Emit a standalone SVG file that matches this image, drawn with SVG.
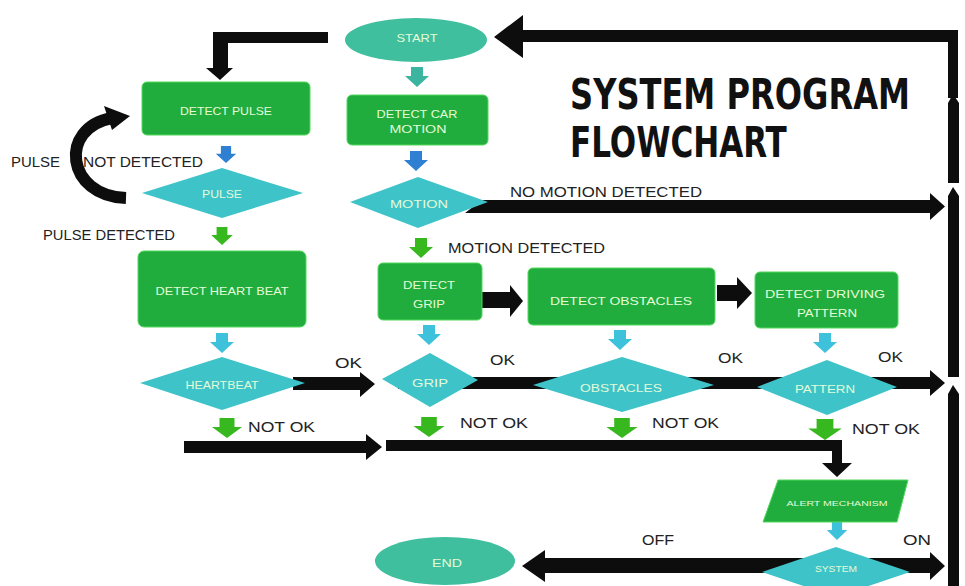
<svg xmlns="http://www.w3.org/2000/svg" xmlns:xlink="http://www.w3.org/1999/xlink" width="965" height="586" viewBox="0 0 965 586">
<style>
.box{fill:#20ad3d;stroke:#52d85c;stroke-width:1}
.dia{fill:#3ec3c8}
.ell{fill:#3fbf9d}
.nt{font-family:"Liberation Sans",Arial,sans-serif;font-size:11px;fill:#e4fbd8;text-anchor:middle}
.lb{font-family:"Liberation Sans",Arial,sans-serif;font-size:15px;fill:#222}
.title{font-family:"DejaVu Sans Condensed","Liberation Sans Narrow","Liberation Sans",sans-serif;font-weight:bold;font-size:42px;fill:#111}
.blk{fill:#0d0d0d}
.bl{fill:#2f80d2}
.gr{fill:#38b81f}
.cy{fill:#3ec2dc}
.tl{fill:#3bb5a0}
</style>
<defs>
<path id="sa" d="M-6,0 H6 V9 H12 L0,20 L-12,9 H-6 Z"/>
</defs>
<rect width="965" height="586" fill="#ffffff"/>

<g id="title">
<text class="title" transform="translate(570,109) scale(0.85,1)" x="0" y="0" textLength="400" lengthAdjust="spacingAndGlyphs">SYSTEM PROGRAM</text>
<text class="title" transform="translate(570,157) scale(0.85,1)" x="0" y="0" textLength="255" lengthAdjust="spacingAndGlyphs">FLOWCHART</text>
</g>

<g id="connectors">
<path class="blk" d="M328,32 V43 H228 V68 H233 L220,80 L206,68 H213 V32 Z"/>
<path class="blk" d="M958,30 V98 H948 V42 H523 V58 L494,37 L523,15 V30 Z"/>
<path class="blk" d="M948,103 L953,94 L959,103 V183 H948 Z"/>
<path class="blk" d="M948,196 L953,187 L959,196 V377 H948 Z"/>
<path class="blk" d="M948,394 L953,385 L959,394 V586 H948 Z"/>
<path d="M126,198 C66,196 58,128 112,118" fill="none" stroke="#0d0d0d" stroke-width="12"/>
<path class="blk" d="M104,106 L130,116 L112,130 Z"/>
<path class="blk" d="M465,213 L482,200 H930 V193 L945,206.5 L930,220 V213 Z"/>
<path class="blk" d="M482,292 H510 V285 L523,301 L510,317 V308 H482 Z"/>
<path class="blk" d="M717,285 H737 V277 L752,293 L737,309 V301 H717 Z"/>
<path class="blk" d="M293,377 H360 V372 L375,384 L360,397 V390 H293 Z"/>
<path class="blk" d="M398,377 H930 V370 L945,383 L930,396 V389 H398 Z"/>
<path class="blk" d="M184,441 H366 V434 L382,447 L366,460 V453 H184 Z"/>
<path class="blk" d="M386,440 H842 V463 H852 L837,477 L822,463 H832 V451 H386 Z"/>
<path class="blk" d="M522,566 L545,550 V558 H930 V552 L945,566 L930,580 V573 H545 V582 Z"/>
<use href="#sa" class="tl" transform="translate(417,67)"/>
<use href="#sa" class="bl" transform="translate(226,146) scale(0.85)"/>
<use href="#sa" class="bl" transform="translate(416,151)"/>
<use href="#sa" class="gr" transform="translate(222,227) scale(0.9)"/>
<use href="#sa" class="gr" transform="translate(421,238)"/>
<use href="#sa" class="cy" transform="translate(222,333)"/>
<use href="#sa" class="gr" transform="translate(227,418) scale(1.25,1)"/>
<use href="#sa" class="cy" transform="translate(429,325)"/>
<use href="#sa" class="gr" transform="translate(429,417) scale(1.3,1)"/>
<use href="#sa" class="cy" transform="translate(620,330)"/>
<use href="#sa" class="gr" transform="translate(622,418) scale(1.3,1)"/>
<use href="#sa" class="cy" transform="translate(825,333)"/>
<use href="#sa" class="gr" transform="translate(825,419) scale(1.4,1.05)"/>
<use href="#sa" class="cy" transform="translate(837,522) scale(0.85,0.9)"/>
</g>

<g id="labels">
<text class="lb" x="11" y="167" textLength="49" lengthAdjust="spacingAndGlyphs">PULSE</text>
<text class="lb" x="83" y="167" textLength="120" lengthAdjust="spacingAndGlyphs">NOT DETECTED</text>
<text class="lb" x="43" y="240" textLength="132" lengthAdjust="spacingAndGlyphs">PULSE DETECTED</text>
<text class="lb" x="510" y="197" textLength="192" lengthAdjust="spacingAndGlyphs">NO MOTION DETECTED</text>
<text class="lb" x="448" y="253" textLength="157" lengthAdjust="spacingAndGlyphs">MOTION DETECTED</text>
<text class="lb" x="335" y="368" textLength="27" lengthAdjust="spacingAndGlyphs">OK</text>
<text class="lb" x="490" y="365" textLength="25" lengthAdjust="spacingAndGlyphs">OK</text>
<text class="lb" x="718" y="363" textLength="25" lengthAdjust="spacingAndGlyphs">OK</text>
<text class="lb" x="878" y="362" textLength="25" lengthAdjust="spacingAndGlyphs">OK</text>
<text class="lb" x="248" y="432" textLength="67" lengthAdjust="spacingAndGlyphs">NOT OK</text>
<text class="lb" x="460" y="428" textLength="68" lengthAdjust="spacingAndGlyphs">NOT OK</text>
<text class="lb" x="652" y="428" textLength="67" lengthAdjust="spacingAndGlyphs">NOT OK</text>
<text class="lb" x="852" y="434" textLength="68" lengthAdjust="spacingAndGlyphs">NOT OK</text>
<text class="lb" x="642" y="545" textLength="32" lengthAdjust="spacingAndGlyphs">OFF</text>
<text class="lb" x="903" y="545" textLength="28" lengthAdjust="spacingAndGlyphs">ON</text>
</g>

<g id="start">
<ellipse class="ell" cx="416" cy="40" rx="71" ry="22"/>
<text class="nt" x="417" y="42" textLength="41" lengthAdjust="spacingAndGlyphs">START</text>
</g>
<g id="detect-pulse">
<rect class="box" x="142" y="82" width="168" height="53" rx="5"/>
<text class="nt" x="226" y="115" textLength="92" lengthAdjust="spacingAndGlyphs">DETECT PULSE</text>
</g>
<g id="pulse">
<polygon class="dia" points="142,193 222,168 303,193 222,218"/>
<text class="nt" x="222" y="198" textLength="40" lengthAdjust="spacingAndGlyphs">PULSE</text>
</g>
<g id="detect-car-motion">
<rect class="box" x="347" y="95" width="141" height="50" rx="5"/>
<text class="nt" x="417" y="118" textLength="81" lengthAdjust="spacingAndGlyphs">DETECT CAR</text>
<text class="nt" x="418" y="133" textLength="57" lengthAdjust="spacingAndGlyphs">MOTION</text>
</g>
<g id="motion">
<polygon class="dia" points="350,202 418,177 488,202 418,228"/>
<text class="nt" x="419" y="208" textLength="58" lengthAdjust="spacingAndGlyphs">MOTION</text>
</g>
<g id="detect-heart-beat">
<rect class="box" x="138" y="251" width="168" height="76" rx="6"/>
<text class="nt" x="222" y="295" textLength="133" lengthAdjust="spacingAndGlyphs">DETECT HEART BEAT</text>
</g>
<g id="heartbeat">
<polygon class="dia" points="140,383 222,357 305,383 222,410"/>
<text class="nt" x="222" y="389" textLength="73" lengthAdjust="spacingAndGlyphs">HEARTBEAT</text>
</g>
<g id="detect-grip">
<rect class="box" x="378" y="263" width="104" height="57" rx="5"/>
<text class="nt" x="429" y="289" textLength="52" lengthAdjust="spacingAndGlyphs">DETECT</text>
<text class="nt" x="429" y="308" textLength="32" lengthAdjust="spacingAndGlyphs">GRIP</text>
</g>
<g id="grip">
<polygon class="dia" points="382,379 430,353 478,380 430,407"/>
<text class="nt" x="430" y="387" textLength="36" lengthAdjust="spacingAndGlyphs">GRIP</text>
</g>
<g id="detect-obstacles">
<rect class="box" x="528" y="268" width="187" height="57" rx="5"/>
<text class="nt" x="621" y="305" textLength="142" lengthAdjust="spacingAndGlyphs">DETECT OBSTACLES</text>
</g>
<g id="obstacles">
<polygon class="dia" points="533,385 622,357 714,385 622,412"/>
<text class="nt" x="621" y="392" textLength="82" lengthAdjust="spacingAndGlyphs">OBSTACLES</text>
</g>
<g id="detect-driving-pattern">
<rect class="box" x="755" y="272" width="143" height="56" rx="5"/>
<text class="nt" x="825" y="298" textLength="120" lengthAdjust="spacingAndGlyphs">DETECT DRIVING</text>
<text class="nt" x="827" y="317" textLength="60" lengthAdjust="spacingAndGlyphs">PATTERN</text>
</g>
<g id="pattern">
<polygon class="dia" points="757,387 827,360 897,387 827,415"/>
<text class="nt" x="825" y="393" textLength="60" lengthAdjust="spacingAndGlyphs">PATTERN</text>
</g>
<g id="alert-mechanism">
<polygon class="box" points="778,480 908,480 897,522 763,522"/>
<text class="nt" x="837" y="506" style="font-size:8px" textLength="101" lengthAdjust="spacingAndGlyphs">ALERT MECHANISM</text>
</g>
<g id="system">
<polygon class="dia" points="762,572 836,547 910,572 836,597"/>
<text class="nt" x="836" y="572" style="font-size:9px" textLength="42" lengthAdjust="spacingAndGlyphs">SYSTEM</text>
</g>
<g id="end">
<ellipse class="ell" cx="445" cy="561" rx="70" ry="24"/>
<text class="nt" x="447" y="567" textLength="30" lengthAdjust="spacingAndGlyphs">END</text>
</g>
</svg>
